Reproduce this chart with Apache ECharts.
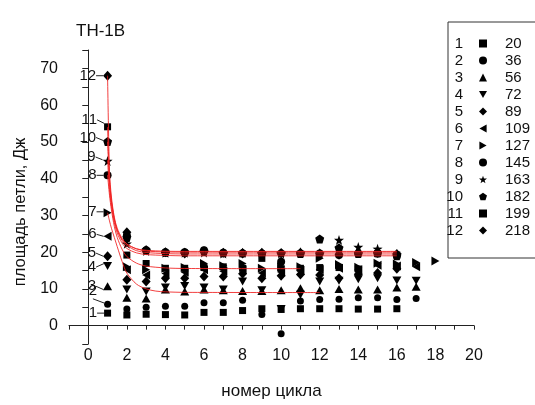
<!DOCTYPE html>
<html>
<head>
<meta charset="utf-8">
<script src="https://cdn.jsdelivr.net/npm/echarts@6/dist/echarts.min.js"></script>
<style>html,body{margin:0;padding:0;background:#fff;}#c{width:535px;height:405px;}</style>
</head>
<body>
<div id="c"></div>
<script>
// ---- data ----
const cycles = [1,2,3,4,5,6,7,8,9,10,11,12,13,14,15,16,17,18];
const loads = [20,36,56,72,89,109,127,145,163,182,199,218];
const s1  = [3.4, 2.9, 3.1, 3.0, 2.9, 3.6, 3.6, 4.1, 4.6, 4.4, 4.6, 4.6, 4.6, 4.5, 4.5, 4.6, null, null];
const s2  = [5.8, 4.5, 5.0, 5.3, 5.3, 6.2, 6.2, 6.9, 3.0, -2.2, 6.7, 7.1, 7.2, 7.6, 7.6, 7.1, 7.4, null];
const s3  = [10.7, 7.6, 7.4, 9.8, 9.3, 9.8, 9.6, 9.4, 9.4, 9.6, 10.2, 9.6, 10.0, 9.8, 9.8, 10.4, 10.6, null];
const s4  = [16.2, 9.8, 9.3, 10.4, 10.8, 10.4, 9.8, 12.0, 9.6, 4.5, 8.4, 12.0, 12.2, 12.6, 12.9, 12.3, 12.2, null];
const s5  = [18.9, 12.5, 12.0, 12.9, 12.9, 13.4, 13.4, 14.1, 12.9, 13.6, 13.9, 13.8, 12.9, 14.0, 14.3, 15.5, null, null];
const s6  = [24.3, 15.2, 13.8, 14.2, 14.5, 15.2, 14.8, 15.2, 14.3, 14.6, 15.0, 15.3, 15.6, 15.2, 16.4, 16.2, 16.0, null];
const s7  = [30.7, 16.0, 15.2, 15.6, 15.8, 16.9, 16.3, 16.9, 15.6, 16.0, 16.0, 18.3, 16.6, 15.9, 17.0, 16.8, 17.2, 17.6];
const s8  = [40.9, 24.5, 20.5, 20.0, 20.0, 20.5, 19.8, 19.6, 19.6, 17.4, 19.6, 19.6, 19.2, 19.6, 19.6, 19.2, null, null];
const s9  = [44.8, 22.3, 20.3, 19.8, 19.8, 19.9, 19.6, 19.8, 19.6, 19.6, 20.0, 19.6, 23.3, 21.4, 20.9, 19.3, null, null];
const s10 = [50.1, 24.0, 20.6, 20.0, 20.0, 20.3, 19.8, 19.8, 19.6, 19.8, 19.6, 23.6, 21.2, 19.6, 19.8, 19.0, null, null];
const s11 = [54.1, 19.2, 16.9, 15.6, 15.6, 15.8, 16.0, 15.6, 18.3, 15.5, 15.6, 15.8, 15.8, 15.4, 19.6, 19.2, null, null];
const s12 = [68.0, 25.4, 20.5, 20.0, 19.6, 20.2, 19.8, 19.6, 19.8, 19.6, 19.8, 19.6, 19.3, 19.8, 19.8, 19.5, null, null];
const seriesValues = [s1,s2,s3,s4,s5,s6,s7,s8,s9,s10,s11,s12];

// fitted curves
const fitX12 = [1, 1.1, 1.2, 1.35, 1.5, 1.75, 2, 2.5, 3, 4, 5, 16];
const fit12 = [68, 42, 35, 29.5, 26.5, 23.8, 22.2, 20.9, 20.3, 20.05, 20.0, 20.0];
const fit11 = [54, 40, 34, 29, 26, 23.2, 21.8, 20.4, 19.9, 19.6, 19.5, 19.5];
const fit10 = [50, 39, 33.5, 28.8, 26, 23.5, 22.2, 20.9, 20.5, 20.25, 20.2, 20.2];
const fit9  = [45, 37, 32.5, 28, 25.2, 22.5, 21, 19.8, 19.35, 19.1, 19.0, 19.0];
const fitX8 = [1, 1.1, 1.2, 1.35, 1.5, 1.75, 2, 2.5, 3, 4, 5, 11];
const fit8  = [41, 35.5, 31.5, 27, 24, 20.8, 18.8, 17, 16.2, 15.7, 15.55, 15.5];
const fitX7 = [1, 1.1, 1.2, 1.35, 1.5, 1.75, 2, 2.5, 3, 3.5, 4, 5, 12];
const fit7  = [30.7, 28.5, 26.5, 24, 21.5, 17.5, 14.3, 11.3, 10, 9.4, 9.2, 9.05, 9.0];

const xTicks = [0,2,4,6,8,10,12,14,16,18,20];
const yTicks = [0,10,20,30,40,50,60,70];

// ---- styles ----
const STAR = 'path://M0,-10 L2.35,-3.24 L9.51,-3.09 L3.8,1.24 L5.88,8.09 L0,4 L-5.88,8.09 L-3.8,1.24 L-9.51,-3.09 L-2.35,-3.24 Z';
const PENT = 'path://M0,-10 L9.51,-3.09 L5.88,8.09 L-5.88,8.09 L-9.51,-3.09 Z';
const TRI_DOWN = 'path://M0,0 L10,0 L5,9 Z';
const TRI_LEFT = 'path://M9,0 L9,10 L0,5 Z';
const TRI_RIGHT = 'path://M0,0 L0,10 L9,5 Z';
const markStyles = [
  {symbol:'rect', size:7},
  {symbol:'circle', size:7},
  {symbol:'triangle', size:[9,8]},
  {symbol:TRI_DOWN, size:[9,8]},
  {symbol:'diamond', size:[9,10]},
  {symbol:TRI_LEFT, size:[8,9]},
  {symbol:TRI_RIGHT, size:[8,9]},
  {symbol:'circle', size:8},
  {symbol:STAR, size:10},
  {symbol:PENT, size:9},
  {symbol:'rect', size:7},
  {symbol:'diamond', size:[9,10]}
];
const calloutDy = [0,-13,0,1,-3,-2,-1,0,-4,-4,-7,0];
const FONT = 'Liberation Sans, Arial, sans-serif';

const series = [];
seriesValues.forEach((vals, i) => {
  const st = markStyles[i];
  const data = [];
  vals.forEach((v, k) => {
    if (v === null) return;
    if (k === 0) {
      data.push({value:[cycles[k], v], label:{show:true}});
    } else {
      data.push([cycles[k], v]);
    }
  });
  series.push({
    name: String(i+1),
    type: 'scatter',
    data: data,
    symbol: st.symbol,
    symbolSize: st.size,
    itemStyle: {color:'#000', opacity: 1},
    z: 2,
    label: {
      show: false, position: 'left', distance: 7,
      formatter: () => String(i+1),
      color: '#111', fontSize: 15, fontFamily: FONT
    },
    labelLine: {show: true, lineStyle: {color:'#222', width: 1}},
    labelLayout: (p) => ({dy: calloutDy[i]}),
    emphasis: {disabled: true}
  });
});

function fitSeries(xs, ys) {
  return {
    type: 'line', data: xs.map((x, k) => [x, ys[k]]),
    smooth: 0.3, symbol: 'none', silent: true, z: 5,
    lineStyle: {color: 'rgba(240,30,30,0.85)', width: 1}
  };
}
series.push(fitSeries(fitX12, fit12));
series.push(fitSeries(fitX12, fit11));
series.push(fitSeries(fitX12, fit10));
series.push(fitSeries(fitX12, fit9));
series.push(fitSeries(fitX8, fit8));
series.push(fitSeries(fitX7, fit7));

const names = loads.map((_, i) => String(i+1));

const chart = echarts.init(document.getElementById('c'));
chart.setOption({
  animation: false,
  backgroundColor: '#fff',
  title: {
    text: 'TH-1B', left: 71, top: 18,
    textStyle: {fontSize: 17, fontWeight: 'normal', color: '#111', fontFamily: FONT}
  },
  grid: {left: 69, right: 61, top: 50, bottom: 56},
  xAxis: {
    type: 'value', min: -1, max: 20, interval: 1,
    name: 'номер цикла', nameLocation: 'middle', nameGap: 39,
    nameTextStyle: {fontSize: 17, color: '#111', fontFamily: FONT},
    axisLine: {lineStyle: {color: '#222', width: 1}},
    axisTick: {show: true, length: 4, lineStyle: {color: '#222'}},
    axisLabel: {
      margin: 4, fontSize: 16, color: '#111', fontFamily: FONT,
      formatter: v => xTicks.indexOf(v) >= 0 ? String(v) : ''
    },
    splitLine: {show: false}
  },
  yAxis: {
    type: 'value', min: -5, max: 75, interval: 5,
    name: '{t|площадь петли, Дж}{s|}', nameLocation: 'middle', nameGap: 40, nameRotate: 90,
    nameTextStyle: {
      fontSize: 16.5, color: '#111', fontFamily: FONT,
      rich: {
        t: {fontSize: 16.5, color: '#111', fontFamily: FONT},
        s: {width: 30, fontSize: 16.5}
      }
    },
    axisLine: {lineStyle: {color: '#222', width: 1}},
    axisTick: {show: true, length: 6, lineStyle: {color: '#222'}},
    axisLabel: {
      margin: 11, fontSize: 16, color: '#111', fontFamily: FONT,
      formatter: v => yTicks.indexOf(v) >= 0 ? String(v) : ''
    },
    splitLine: {show: false}
  },
  legend: [
    {
      data: names, orient: 'vertical', left: 441, top: 35, padding: 0,
      icon: 'none', itemWidth: 0, itemHeight: 0, itemGap: 0, selectedMode: false,
      formatter: n => '{n|' + n + '}',
      textStyle: {
        fontSize: 15, color: '#111', fontFamily: FONT, lineHeight: 17,
        rich: {n: {width: 17, align: 'right', fontSize: 15, lineHeight: 17, fontFamily: FONT, color: '#111'}}
      }
    },
    {
      data: names, orient: 'vertical', left: 448, top: 22,
      padding: [13, 40, 19, 31], itemWidth: 8, itemHeight: 8, itemGap: 0,
      selectedMode: false, borderColor: '#333', borderWidth: 1,
      formatter: n => loads[Number(n) - 1],
      textStyle: {fontSize: 15, color: '#111', fontFamily: FONT, lineHeight: 17, padding: [0, 0, 0, 13]}
    }
  ],
  series: series
});
</script>
</body>
</html>
